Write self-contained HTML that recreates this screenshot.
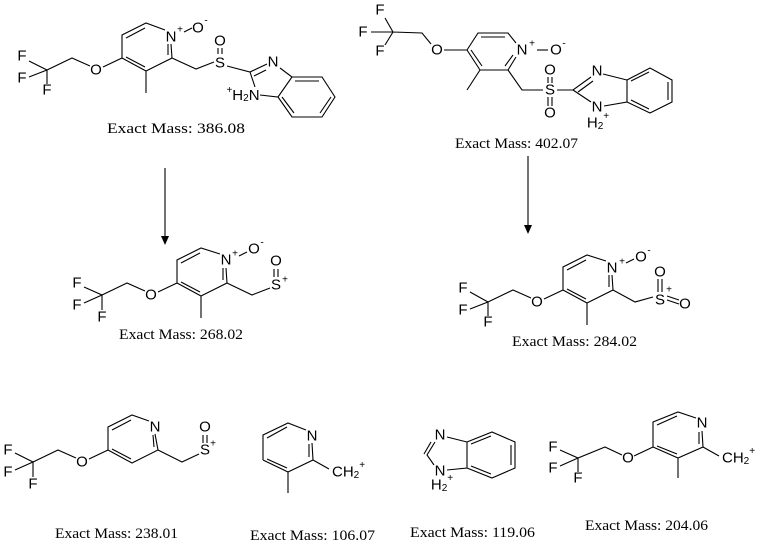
<!DOCTYPE html>
<html><head><meta charset="utf-8"><style>
html,body{margin:0;padding:0;background:#fff;}
svg{display:block}
.a{font-family:"Liberation Sans",sans-serif;font-size:15px;fill:#000;text-anchor:middle;dominant-baseline:central}
.s{font-family:"Liberation Sans",sans-serif;font-size:10px;fill:#000;text-anchor:middle;dominant-baseline:central}
.m{font-family:"Liberation Serif",serif;font-size:14.5px;fill:#000}
path{fill:none;stroke:#000;stroke-width:1.1}
</style></head><body>
<svg width="761" height="544" viewBox="0 0 761 544" xmlns="http://www.w3.org/2000/svg">

<!-- Structure 1 -->
<g transform="translate(122,58)">
<path d="M0,0 L0,-23 L24,-35 L43,-28 M49,-14 L50,0 L24,13 L0,0 M24,13 L24,35 M0,0 L-19,9 M-32,8 L-50,0 L-75,12 L-93,3 M-75,12 L-93,19 M-75,12 L-75,26"/>
<path d="M4,-20 L23,-30 M46,-14 L46,-3 M23,9 L4,-1"/>
<text class="a" x="49" y="-21">N</text><text class="a" x="-26" y="12">O</text>
<text class="a" x="-100" y="-2">F</text><text class="a" x="-100" y="20">F</text><text class="a" x="-75" y="32">F</text>
<text class="s" x="58" y="-28">+</text><path d="M62,-26 L70,-30"/><text class="a" x="76" y="-30">O</text><text class="s" x="84" y="-37">-</text>
<path d="M50,0 L74,11 L92,4 M96,-4 L96,-10 M100,-4 L100,-10"/>
<text class="a" x="98" y="5">S</text><text class="a" x="98" y="-17">O</text>
</g>
<path d="M227,66 L250,72 L267,64 M280,68 L292,77 L278,97 L260,95 M255,87 L250,72 M254,76 L266,70 M292,77 L322,77 L335,97 L322,117 L292,117 L278,97 M295,81 L319,81 M331,97 L320,113 M282,97 L294,113"/>
<text class="a" x="273" y="62">N</text>
<text class="a" x="243" y="95"><tspan font-size="10" dy="-5">+</tspan><tspan dy="5">H</tspan><tspan font-size="10" dy="3">2</tspan><tspan dy="-3">N</tspan></text>
<text class="m" x="107" y="133" textLength="138" lengthAdjust="spacingAndGlyphs">Exact Mass: 386.08</text>

<!-- Structure 2 -->
<path d="M467,50 L478,33 L508,33 L516,43 M516,57 L508,70 L480,70 L467,50 M480,70 L467,90 M467,50 L444,50 M431,44 L422,33 L393,32 L385,18 M393,32 L371,32 M393,32 L385,45"/>
<path d="M481,37 L505,37 M505,66 L513,55 M482,66 L471,50"/>
<text class="a" x="522" y="50">N</text><text class="s" x="532" y="44">+</text><path d="M537,50 L548,50"/>
<text class="a" x="556" y="50">O</text><text class="s" x="564" y="44">-</text>
<text class="a" x="437" y="50">O</text>
<text class="a" x="380" y="10">F</text><text class="a" x="363" y="32">F</text><text class="a" x="380" y="51">F</text>
<path d="M508,70 L522,90 L543,90 M548,77 L548,83 M552,77 L552,83 M548,97 L548,106 M552,97 L552,106 M557,90 L573,90 L591,77 M578,92 L593,81 M603,74 L627,80 L627,102 L604,106 M591,102 L573,90"/>
<text class="a" x="550" y="90">S</text><text class="a" x="550" y="70">O</text><text class="a" x="550" y="113">O</text>
<text class="a" x="597" y="71">N</text><text class="a" x="597" y="107">N</text>
<text class="a" x="598" y="123">H<tspan font-size="10" dy="3">2</tspan><tspan font-size="10" dy="-10">+</tspan></text>
<path d="M627,80 L650,68 L672,80 L672,102 L650,113 L627,102 M631,81 L649,72 M668,82 L668,100 M649,109 L631,100"/>
<text class="m" x="455" y="148" textLength="123" lengthAdjust="spacingAndGlyphs">Exact Mass: 402.07</text>

<!-- arrows -->
<path d="M165,168 L165,237"/><polygon points="161,236 169,236 165,245" fill="#000"/>
<path d="M528,156 L528,226"/><polygon points="524,225 532,225 528,234" fill="#000"/>

<!-- Structure 3 -->
<g transform="translate(177,283)">
<path d="M0,0 L0,-23 L24,-35 L43,-29 M49,-15 L50,0 L24,13 L0,0 M24,13 L24,35 M0,0 L-19,9 M-32,8 L-50,0 L-75,12 L-93,4 M-75,12 L-93,20 M-75,12 L-75,27"/>
<path d="M4,-20 L23,-30 M46,-15 L46,-3 M23,9 L4,-1"/>
<text class="a" x="49" y="-23">N</text><text class="a" x="-26" y="12">O</text>
<text class="a" x="-100" y="0">F</text><text class="a" x="-100" y="22">F</text><text class="a" x="-75" y="34">F</text>
<text class="s" x="58" y="-29">+</text><path d="M62,-27 L70,-31"/><text class="a" x="77" y="-34">O</text><text class="s" x="85" y="-40">-</text>
<path d="M50,0 L75,12 L93,5 M97,-6 L97,-14 M101,-6 L101,-14"/>
<text class="a" x="99" y="2">S</text><text class="s" x="108" y="-3">+</text><text class="a" x="99" y="-22">O</text>
</g>
<text class="m" x="119" y="339" textLength="124" lengthAdjust="spacingAndGlyphs">Exact Mass: 268.02</text>

<!-- Structure 4 -->
<g transform="translate(563,290)">
<path d="M0,0 L0,-23 L24,-35 L43,-29 M49,-15 L50,0 L24,13 L0,0 M24,13 L24,35 M0,0 L-19,9 M-32,8 L-50,0 L-75,12 L-93,2 M-75,12 L-93,19 M-75,12 L-75,26"/>
<path d="M4,-20 L23,-30 M46,-15 L46,-3 M23,9 L4,-1"/>
<text class="a" x="49" y="-22">N</text><text class="a" x="-26" y="12">O</text>
<text class="a" x="-100" y="-2">F</text><text class="a" x="-100" y="20">F</text><text class="a" x="-75" y="32">F</text>
<text class="s" x="59" y="-28">+</text><path d="M63,-27 L71,-31"/><text class="a" x="78" y="-33">O</text><text class="s" x="86" y="-39">-</text>
<path d="M50,0 L72,12 L90,7 M95,2 L95,-11 M99,2 L99,-11 M104,6 L116,10 M104,10 L116,14"/>
<text class="a" x="97" y="10">S</text><text class="s" x="106" y="0">+</text><text class="a" x="97" y="-18">O</text><text class="a" x="122" y="14">O</text>
</g>
<text class="m" x="512" y="346" textLength="125" lengthAdjust="spacingAndGlyphs">Exact Mass: 284.02</text>

<!-- Structure 5 -->
<g transform="translate(108,450)">
<path d="M0,0 L0,-23 L24,-35 L41,-29 M47,-16 L50,0 L24,13 L0,0 M0,0 L-19,9 M-32,8 L-50,0 L-75,12 L-93,3 M-75,12 L-93,20 M-75,12 L-75,27"/>
<path d="M4,-20 L23,-30 M45,-15 L46,-3 M23,9 L4,-1"/>
<text class="a" x="47" y="-23">N</text><text class="a" x="-26" y="12">O</text>
<text class="a" x="-100" y="0">F</text><text class="a" x="-100" y="22">F</text><text class="a" x="-75" y="34">F</text>
<path d="M50,0 L74,12 L91,4 M95,-7 L95,-15 M99,-7 L99,-15"/>
<text class="a" x="97" y="0">S</text><text class="s" x="105" y="-6">+</text><text class="a" x="97" y="-23">O</text>
</g>
<text class="m" x="55" y="538" textLength="123" lengthAdjust="spacingAndGlyphs">Exact Mass: 238.01</text>

<!-- Structure 6 -->
<g transform="translate(263,460)">
<path d="M0,0 L0,-25 L25,-37 L43,-30 M49,-17 L50,0 L25,12 L0,0 M25,12 L25,33 M50,0 L66,9"/>
<path d="M4,-22 L24,-33 M46,-16 L46,-3 M24,8 L4,-1"/>
<text class="a" x="49" y="-24">N</text>
<text class="a" x="69" y="12" style="text-anchor:start">CH<tspan font-size="10" dy="3">2</tspan><tspan font-size="10" dy="-10">+</tspan></text>
</g>
<text class="m" x="250" y="540" textLength="125" lengthAdjust="spacingAndGlyphs">Exact Mass: 106.07</text>

<!-- Structure 7 -->
<path d="M435,442 L427,455 L434,465 M431,442 L424,454 M447,437 L467,442 L467,468 L447,470 M467,442 L492,432 L515,442 L515,468 L492,478 L467,468 M471,444 L491,436 M511,445 L511,465 M491,474 L471,466"/>
<text class="a" x="440" y="435">N</text><text class="a" x="440" y="471">N</text>
<text class="a" x="442" y="485">H<tspan font-size="10" dy="3">2</tspan><tspan font-size="10" dy="-10">+</tspan></text>
<text class="m" x="410" y="537" textLength="125" lengthAdjust="spacingAndGlyphs">Exact Mass: 119.06</text>

<!-- Structure 8 -->
<g transform="translate(653,447)">
<path d="M0,0 L0,-25 L25,-35 L43,-29 M49,-16 L50,0 L25,11 L0,0 M25,11 L25,31 M0,0 L-19,9 M-31,8 L-48,0 L-75,11 L-93,3 M-75,11 L-93,19 M-75,11 L-75,25 M50,0 L66,9"/>
<path d="M4,-22 L24,-31 M46,-15 L46,-3 M24,7 L4,-1"/>
<text class="a" x="49" y="-24">N</text><text class="a" x="-25" y="11">O</text>
<text class="a" x="-100" y="0">F</text><text class="a" x="-100" y="21">F</text><text class="a" x="-75" y="31">F</text>
<text class="a" x="69" y="11" style="text-anchor:start">CH<tspan font-size="10" dy="3">2</tspan><tspan font-size="10" dy="-10">+</tspan></text>
</g>
<text class="m" x="585" y="530" textLength="123" lengthAdjust="spacingAndGlyphs">Exact Mass: 204.06</text>

</svg>
</body></html>
